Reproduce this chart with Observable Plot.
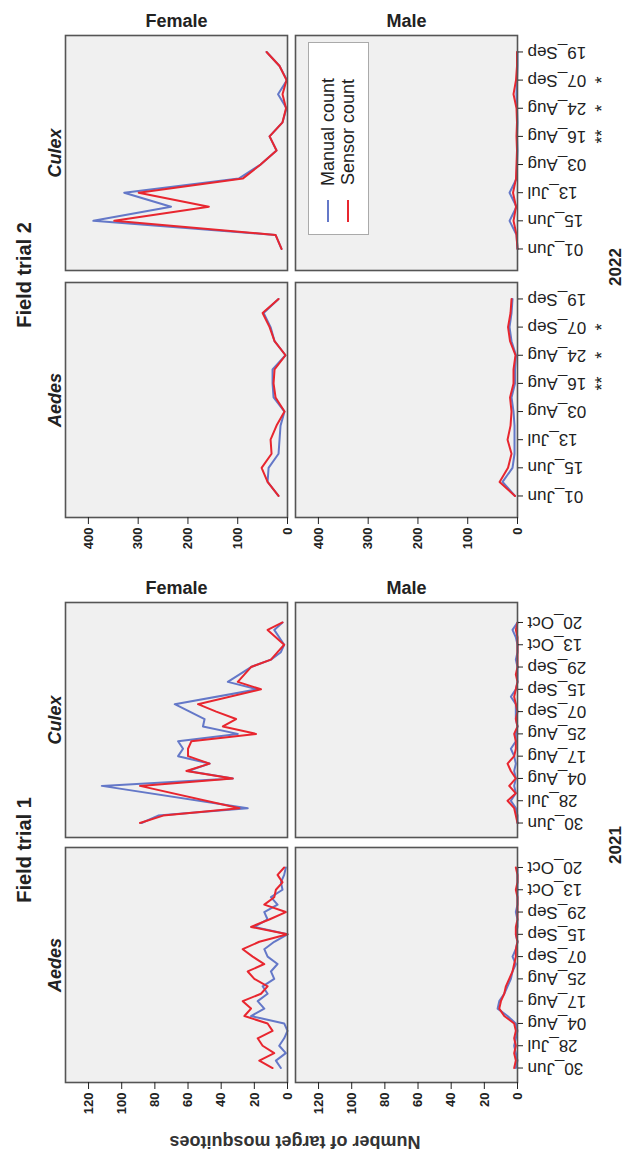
<!DOCTYPE html>
<html>
<head>
<meta charset="utf-8">
<script src="https://cdn.jsdelivr.net/npm/d3@7"></script>
<script src="https://cdn.jsdelivr.net/npm/@observablehq/plot@0.6"></script>
<style>
  body { margin: 0; background: #fff; font-family: "Liberation Sans", Arial, sans-serif; }
  #wrap { position: relative; width: 628px; height: 1159px; overflow: hidden; background: #fff; }
  #wrap svg { display: block; }
  .lab { position: absolute; white-space: nowrap; color: #222; font-weight: bold; line-height: 1; }
  g[aria-label="fy-axis tick label"] { font-style: italic; font-weight: bold; font-size: 18px; }
  g[aria-label="fx-axis tick label"] { font-weight: bold; font-size: 18px; }
  g[aria-label="x-axis tick label"] { font-weight: bold; font-size: 13px; }
  g[aria-label="y-axis tick label"] { font-size: 17px; }
</style>
</head>
<body>
<div id="wrap"></div>
<script>
// ---------- shared ----------
const series = ["Manual count", "Sensor count"];
const sexes = ["Female", "Male"];
const genera = ["Culex", "Aedes"];

// ---------- Field trial 2 (2022) ----------
const dates2022 = ["01_Jun", "15_Jun", "13_Jul", "03_Aug", "16_Aug", "24_Aug", "07_Sep", "19_Sep"];
const dateIdx2022 = [0, 2, 4, 6, 8, 10, 12, 14];
const stars2022 = ["", "", "", "", "**", "*", "*", ""];
const ticks2022 = [0, 100, 200, 300, 400];
const idx2022 = [0, 1, 2, 3, 4, 5, 6, 7, 8, 9, 10, 11, 12, 13, 14];
const culexFemale2022Manual = [12, 24, 390, 234, 328, 98, 54, 22, 36, 10, 2, 19, 1, 16, 42];
const culexFemale2022Sensor = [12, 24, 348, 158, 299, 90, 54, 22, 36, 10, 3, 10, 2, 16, 42];
const aedesFemale2022Manual = [18, 40, 38, 18, 16, 14, 6, 28, 30, 30, 4, 26, 34, 48, 18];
const aedesFemale2022Sensor = [18, 40, 52, 32, 34, 22, 6, 24, 28, 26, 4, 26, 36, 50, 18];
const culexMale2022Manual = [0, 2, 16, 2, 16, 2, 1, 0, 1, 0, 1, 2, 1, 0, 0];
const culexMale2022Sensor = [0, 2, 8, 3, 9, 3, 2, 1, 2, 1, 2, 8, 3, 1, 1];
const aedesMale2022Manual = [5, 30, 10, 6, 6, 6, 8, 12, 5, 5, 3, 12, 16, 12, 10];
const aedesMale2022Sensor = [5, 36, 19, 12, 20, 14, 12, 15, 8, 8, 4, 15, 19, 14, 12];

// ---------- Field trial 1 (2021) ----------
const dates2021 = ["30_Jun", "28_Jul", "04_Aug", "17_Aug", "25_Aug", "07_Sep", "15_Sep", "29_Sep", "13_Oct", "20_Oct"];
const dateIdx2021 = [0, 3, 6, 9, 12, 15, 18, 21, 24, 27];
const ticks2021 = [0, 20, 40, 60, 80, 100, 120];
const idx2021 = [0, 1, 2, 3, 4, 5, 6, 7, 8, 9, 10, 11, 12, 13, 14, 15, 16, 17, 18, 19, 20, 21, 22, 23, 24, 25, 26, 27];
const culexFemale2021Idx = [0, 1, 2, 5, 6, 7, 8, 9, 10, 11, 12, 13, 14, 15, 16, 18, 19, 21, 22, 23, 24, 26, 27];
const culexFemale2021Manual = [88, 78, 24, 112, 33, 60, 47, 66, 63, 66, 30, 51, 50, 59, 68, 18, 36, 22, 10, 4, 2, 8, 3];
const culexFemale2021Sensor = [89, 75, 29, 89, 33, 61, 47, 60, 60, 58, 19, 39, 31, 43, 54, 16, 30, 22, 10, 6, 2, 12, 3];
const aedesFemale2021Manual = [4, 7, 1, 5, 2, 0, 2, 22, 14, 18, 12, 15, 8, 10, 6, 12, 14, 8, 0, 20, 12, 14, 6, 10, 3, 4, 2, 1];
const aedesFemale2021Sensor = [9, 17, 8, 15, 18, 9, 12, 26, 22, 27, 16, 12, 20, 24, 14, 21, 27, 17, 0, 22, 11, 1, 14, 8, 7, 3, 6, 2];
const culexMale2021Manual = [0, 0, 1, 4, 1, 2, 1, 2, 1, 2, 4, 1, 1, 0, 1, 1, 1, 4, 1, 0, 0, 0, 1, 0, 0, 1, 3, 0];
const culexMale2021Sensor = [0, 1, 2, 6, 1, 5, 1, 4, 6, 2, 1, 1, 2, 0, 1, 0, 1, 2, 1, 0, 1, 0, 0, 0, 0, 0, 1, 0];
const aedesMale2021Manual = [1, 0, 1, 2, 1, 0, 1, 6, 12, 11, 8, 6, 4, 3, 1, 3, 1, 0, 1, 0, 0, 1, 0, 0, 0, 0, 0, 0];
const aedesMale2021Sensor = [2, 1, 2, 1, 2, 1, 2, 8, 11, 10, 8, 7, 5, 3, 2, 1, 1, 0, 1, 1, 0, 0, 0, 0, 1, 0, 0, 1];

function rowsOf(sex, genus, idx, manual, sensor) {
  return [
    ...idx.map((i, k) => ({sex, genus, series: series[0], idx: i, value: manual[k]})),
    ...idx.map((i, k) => ({sex, genus, series: series[1], idx: i, value: sensor[k]}))
  ];
}

const rows2022 = [
  ...rowsOf("Female", "Culex", idx2022, culexFemale2022Manual, culexFemale2022Sensor),
  ...rowsOf("Female", "Aedes", idx2022, aedesFemale2022Manual, aedesFemale2022Sensor),
  ...rowsOf("Male", "Culex", idx2022, culexMale2022Manual, culexMale2022Sensor),
  ...rowsOf("Male", "Aedes", idx2022, aedesMale2022Manual, aedesMale2022Sensor)
];
const rows2021 = [
  ...rowsOf("Female", "Culex", culexFemale2021Idx, culexFemale2021Manual, culexFemale2021Sensor),
  ...rowsOf("Female", "Aedes", idx2021, aedesFemale2021Manual, aedesFemale2021Sensor),
  ...rowsOf("Male", "Culex", idx2021, culexMale2021Manual, culexMale2021Sensor),
  ...rowsOf("Male", "Aedes", idx2021, aedesMale2021Manual, aedesMale2021Sensor)
];

const starRows2022 = [];
for (const genus of genera) {
  stars2022.forEach((s, k) => { if (s) starRows2022.push({genus, idx: dateIdx2022[k], s}); });
}

function block(o) {
  const marks = [
    Plot.frame({fill: "#f0f0f0", stroke: null}),
    Plot.line(o.rows, {fx: "sex", fy: "genus", x: "value", y: "idx", z: "series", stroke: "series", strokeWidth: 2}),
    Plot.frame({stroke: "#555", strokeWidth: 1.6}),
    Plot.axisX({anchor: "bottom", facetAnchor: "bottom", ticks: o.xTicks, tickSize: 7, tickPadding: 3,
      tickRotate: -90, textAnchor: "end", lineAnchor: "middle", fontSize: 13, fontWeight: "bold", label: null}),
    Plot.axisY({anchor: "right", facetAnchor: "right", ticks: o.dateIdx,
      tickFormat: d => o.dates[o.dateIdx.indexOf(d)], tickSize: 5, tickPadding: 5,
      tickRotate: 180, textAnchor: "end", lineAnchor: "middle", fontSize: 17, label: null}),
    Plot.axisFx({anchor: "top", tickSize: 0, tickPadding: 9, fontSize: 18, fontWeight: "bold", label: null}),
    Plot.axisFy({anchor: "left", tickSize: 0, tickPadding: 5, tickRotate: -90, textAnchor: "middle",
      lineAnchor: "bottom", fontSize: 18, fontWeight: "bold", fontStyle: "italic", label: null})
  ];
  if (o.stars) {
    marks.push(Plot.text(o.stars, {fx: () => "Male", fy: "genus", y: "idx", text: "s", frameAnchor: "right",
      dx: 85, rotate: -90, fontSize: 18, textAnchor: "middle", lineAnchor: "middle", fill: "#222"}));
  }
  return Plot.plot({
    width: 628, height: o.height,
    marginLeft: 65, marginRight: 111, marginTop: o.marginTop, marginBottom: o.marginBottom,
    style: {fontFamily: '"Liberation Sans", Arial, sans-serif', color: "#222", background: "#fff", overflow: "visible"},
    fx: {domain: sexes, paddingInner: 8 / 230, paddingOuter: 0, label: null},
    fy: {domain: genera, paddingInner: o.fyPad, paddingOuter: 0, label: null},
    x: {domain: [0, o.xMax], reverse: true},
    y: {domain: o.yDomain},
    color: {domain: series, range: ["#6478c8", "#e8262f"]},
    marks
  });
}

const wrap = document.getElementById("wrap");
wrap.appendChild(block({
  rows: rows2022, dates: dates2022, dateIdx: dateIdx2022, xTicks: ticks2022, xMax: 446,
  yDomain: [-1.53, 15.17], height: 560, marginTop: 34.5, marginBottom: 43.5, fyPad: 12 / 247,
  stars: starRows2022
}));
wrap.appendChild(block({
  rows: rows2021, dates: dates2021, dateIdx: dateIdx2021, xTicks: ticks2021, xMax: 133.9,
  yDomain: [-1.95, 29.69], height: 599, marginTop: 42, marginBottom: 76, fyPad: 10 / 245.5
}));

// ---------- titles and legend ----------
function label(text, cx, cy, rot, size, extra = "") {
  const d = document.createElement("div");
  d.className = "lab";
  d.textContent = text;
  d.style.cssText += `left:${cx}px;top:${cy}px;font-size:${size}px;transform:translate(-50%,-50%) rotate(${rot}deg);${extra}`;
  wrap.appendChild(d);
}
label("Field trial 2", 24, 275, -90, 20);
label("Field trial 1", 24, 850, -90, 20);
label("2022", 615, 267, -90, 17);
label("2021", 615, 845, -90, 17);
label("Number of target mosquitoes", 295, 1142, 180, 18, "color:#333;");

const box = document.createElement("div");
box.style.cssText = "position:absolute;left:308px;top:42px;width:61px;height:193px;background:#fff;border:1px solid #aaa;box-sizing:border-box;";
wrap.appendChild(box);
const colors = ["#6478c8", "#e8262f"];
series.forEach((s, k) => {
  const x = 327 + k * 20;
  const sw = document.createElement("div");
  sw.style.cssText = `position:absolute;left:${x}px;top:200px;width:2px;height:22px;background:${colors[k]};`;
  wrap.appendChild(sw);
  label(s, x + 1, 132, -90, 18, "font-weight:normal;");
});
</script>
</body>
</html>
